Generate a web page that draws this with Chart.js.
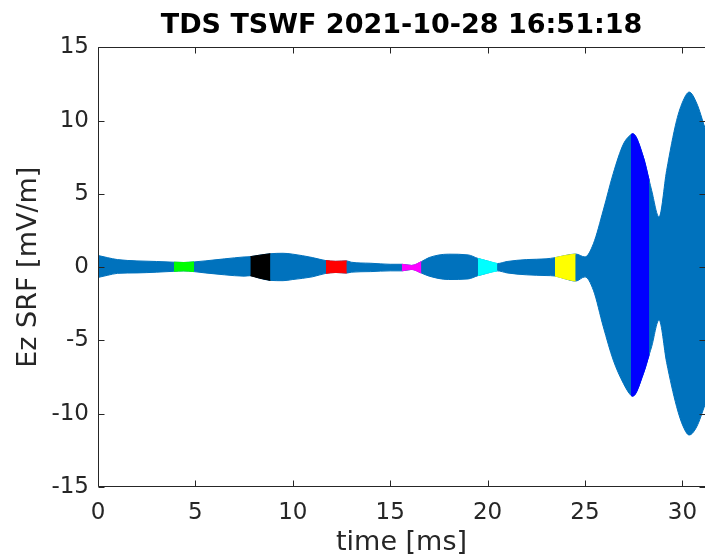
<!DOCTYPE html>
<html>
<head>
<meta charset="utf-8">
<script src="https://cdn.jsdelivr.net/npm/chart.js@4.4.0/dist/chart.umd.min.js"></script>
<style>
  html, body { margin: 0; padding: 0; background: #fff; }
  #wrap { width: 705px; height: 559px; }
</style>
</head>
<body>
<div id="wrap"><canvas id="myChart" width="705" height="559"></canvas></div>
<script>
// tiempos (ms) donde se leyo la envolvente de la forma de onda
var tiempos = [0, 0.5, 1, 2, 3, 3.9, 4.4, 4.93, 5.5, 6.5,
  7.5, 7.82, 8.3, 8.85, 9.5, 10, 11, 11.7, 12.2, 12.77,
  13, 14, 15, 15.6, 16.1, 16.6, 17, 18, 19, 19.5,
  20, 20.5, 21, 22, 23, 23.46, 24, 24.52, 25, 25.43,
  25.94, 26.45, 26.97, 27.36, 27.45, 28, 28.3, 28.42, 28.8, 29.19,
  29.7, 30.05, 30.35, 30.73, 31.16];

// envolvente superior e inferior (mV/m)
var envSuperior = [0.8, 0.65, 0.52, 0.43, 0.39, 0.34, 0.32, 0.36, 0.43, 0.57,
  0.7, 0.72, 0.82, 0.92, 0.95, 0.89, 0.66, 0.45, 0.4, 0.43,
  0.34, 0.27, 0.2, 0.2, 0.12, 0.38, 0.66, 0.89, 0.84, 0.6,
  0.42, 0.25, 0.39, 0.52, 0.57, 0.65, 0.8, 0.9, 0.7, 1.6,
  3.9, 6.4, 8.4, 9.05, 9.11, 7.5, 5.9, 5.25, 3.43, 6.6,
  10.0, 11.4, 11.95, 11.2, 9.5];

var envInferior = [-0.7, -0.55, -0.42, -0.39, -0.34, -0.28, -0.25, -0.3, -0.39, -0.52,
  -0.61, -0.58, -0.75, -0.9, -0.92, -0.84, -0.66, -0.42, -0.36, -0.4,
  -0.34, -0.3, -0.25, -0.25, -0.15, -0.4, -0.61, -0.84, -0.8, -0.58,
  -0.4, -0.25, -0.39, -0.52, -0.57, -0.6, -0.8, -0.95, -0.66, -1.57,
  -4.07, -6.34, -7.93, -8.75, -8.8, -7.25, -5.95, -5.43, -3.61, -6.5,
  -9.5, -10.9, -11.45, -10.9, -9.4];

// tramos marcados con color
var tramosInicio = [3.9, 7.82, 11.7, 15.6, 19.5, 23.46, 27.36];
var tramosFin    = [4.93, 8.85, 12.77, 16.6, 20.5, 24.52, 28.3];
var tramosColor  = ['#00FF00', '#000000', '#FF0000', '#FF00FF', '#00FFFF', '#FFFF00', '#0000FF'];

var xTicks = [0, 5, 10, 15, 20, 25, 30];
var yTicks = [-15, -10, -5, 0, 5, 10, 15];

var colorOnda = '#0072BD';
var colorEje = '#262626';

// armar los datasets: envolvente completa y luego cada tramo
function puntos(valores, desde, hasta) {
  var out = [];
  for (var i = 0; i < tiempos.length; i++) {
    if (tiempos[i] >= desde && tiempos[i] <= hasta) out.push({ x: tiempos[i], y: valores[i] });
  }
  return out;
}

function par(desde, hasta, color, orden) {
  var base = {
    borderColor: color, backgroundColor: color, borderWidth: 1,
    pointRadius: 0, cubicInterpolationMode: 'monotone', order: orden
  };
  return [
    Object.assign({ data: puntos(envSuperior, desde, hasta), fill: '+1' }, base),
    Object.assign({ data: puntos(envInferior, desde, hasta), fill: false }, base)
  ];
}

var datasets = par(0, 40, colorOnda, 2);
for (var k = 0; k < tramosInicio.length; k++) {
  datasets = datasets.concat(par(tramosInicio[k], tramosFin[k], tramosColor[k], 1));
}

// caja de ejes con ticks hacia adentro (estilo matlab)
var cajaEjes = {
  id: 'cajaEjes',
  afterDraw: function (chart) {
    var ctx = chart.ctx, a = chart.chartArea;
    var sx = chart.scales.x, sy = chart.scales.y;
    var L = Math.round(a.left) + 0.5, R = Math.round(a.right) - 0.5;
    var T = Math.round(a.top) + 0.5, B = Math.round(a.bottom) - 0.5;
    ctx.save();
    ctx.strokeStyle = colorEje;
    ctx.lineWidth = 1;
    ctx.beginPath();
    ctx.moveTo(R + 1, T); ctx.lineTo(L, T); ctx.lineTo(L, B); ctx.lineTo(R + 1, B);
    xTicks.forEach(function (v) {
      var px = Math.round(sx.getPixelForValue(v)) + 0.5;
      ctx.moveTo(px, B); ctx.lineTo(px, B - 6);
      ctx.moveTo(px, T); ctx.lineTo(px, T + 6);
    });
    yTicks.forEach(function (v) {
      var py = Math.round(sy.getPixelForValue(v)) + 0.5;
      ctx.moveTo(L, py); ctx.lineTo(L + 6, py);
      ctx.moveTo(R + 1, py); ctx.lineTo(R - 5, py);
    });
    ctx.stroke();
    ctx.restore();
  }
};

var fuente = 'DejaVu Sans';

var ctx = document.getElementById('myChart');
var myChart = new Chart(ctx, {
  type: 'line',
  data: { datasets: datasets },
  plugins: [cajaEjes],
  options: {
    responsive: false,
    animation: false,
    layout: { padding: 0 },
    plugins: {
      legend: { display: false },
      tooltip: { enabled: false },
      title: {
        display: true,
        fullSize: false,
        text: 'TDS TSWF 2021-10-28 16:51:18',
        color: '#000',
        font: { family: fuente, size: 27, weight: 'bold' },
        padding: { top: 10, bottom: 5 }
      }
    },
    scales: {
      x: {
        type: 'linear', min: 0, max: 31.16,
        grid: { display: false },
        border: { display: false },
        afterBuildTicks: function (s) { s.ticks = xTicks.map(function (v) { return { value: v }; }); },
        afterFit: function (s) { s.height = 72; s.paddingRight = 0; },
        ticks: { color: colorEje, font: { family: fuente, size: 23 }, padding: 4, maxRotation: 0 },
        title: { display: true, text: 'time [ms]', color: colorEje, font: { family: fuente, size: 27 }, padding: { top: 0, bottom: 0 } }
      },
      y: {
        min: -15, max: 15,
        grid: { display: false },
        border: { display: false },
        afterBuildTicks: function (s) { s.ticks = yTicks.map(function (v) { return { value: v }; }); },
        afterFit: function (s) { s.width = 98; },
        ticks: { color: colorEje, font: { family: fuente, size: 23 }, padding: 1 },
        title: { display: true, text: 'Ez SRF [mV/m]', color: colorEje, font: { family: fuente, size: 27 }, padding: { top: 13, bottom: 0 } }
      }
    }
  }
});
</script>
</body>
</html>
